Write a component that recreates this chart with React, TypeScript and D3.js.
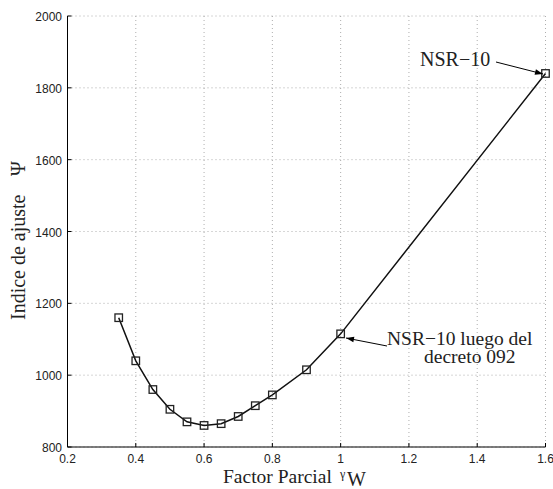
import React from "react";
import * as d3 from "d3";

const gammaW = [0.35, 0.4, 0.45, 0.5, 0.55, 0.6, 0.65, 0.7, 0.75, 0.8, 0.9, 1.0, 1.6];
const psi = [1160, 1040, 960, 905, 870, 860, 865, 885, 915, 945, 1015, 1115, 1840];
const xTicks = [0.2, 0.4, 0.6, 0.8, 1, 1.2, 1.4, 1.6];
const yTicks = [800, 1000, 1200, 1400, 1600, 1800, 2000];

const W = 553, H = 489;
const left = 67.5, right = 545.5, top = 16, bottom = 447;

export default function App() {
  const x = d3.scaleLinear().domain([0.2, 1.6]).range([left, right]);
  const y = d3.scaleLinear().domain([800, 2000]).range([bottom, top]);
  const pts = gammaW.map((g, i) => [x(g), y(psi[i])] as [number, number]);
  const line = d3.line()(pts) || "";
  const tickFont = "'Liberation Sans', Arial, sans-serif";
  const serif = "'Liberation Serif', 'Times New Roman', serif";
  return (
    <svg width={W} height={H} style={{ position: "absolute", left: 0, top: 0, background: "#fff" }}>
      <defs>
        <marker id="ah" viewBox="0 0 10 10" refX="10" refY="5" markerWidth="10" markerHeight="8" orient="auto" markerUnits="userSpaceOnUse">
          <path d="M0,1.5 L10,5 L0,8.5 z" fill="#000" />
        </marker>
      </defs>
      {xTicks.map((t) => (
        <line key={"gx" + t} x1={x(t)} x2={x(t)} y1={top} y2={bottom} stroke="#999" strokeWidth={0.8} strokeDasharray="1,3" />
      ))}
      {yTicks.map((t) => (
        <line key={"gy" + t} x1={left} x2={right} y1={y(t)} y2={y(t)} stroke="#999" strokeWidth={0.8} strokeDasharray="1,3" />
      ))}
      <line x1={left} x2={left} y1={top} y2={bottom} stroke="#000" strokeWidth={1} />
      <line x1={left} x2={right} y1={bottom} y2={bottom} stroke="#000" strokeWidth={1} />
      {xTicks.map((t) => (
        <g key={"tx" + t}>
          <line x1={x(t)} x2={x(t)} y1={bottom} y2={bottom - 4} stroke="#000" />
          <text x={x(t)} y={bottom + 16} textAnchor="middle" fontSize={12} fontFamily={tickFont} fill="#222">{t.toString()}</text>
        </g>
      ))}
      {yTicks.map((t) => (
        <g key={"ty" + t}>
          <line x1={left} x2={left + 4} y1={y(t)} y2={y(t)} stroke="#000" />
          <text x={left - 5.5} y={y(t) + 5} textAnchor="end" fontSize={12} fontFamily={tickFont} fill="#222">{t}</text>
        </g>
      ))}
      <path d={line} fill="none" stroke="#111" strokeWidth={1.5} />
      {pts.map(([px, py], i) => (
        <rect key={i} x={px - 3.75} y={py - 3.75} width={7.5} height={7.5} fill="none" stroke="#222" strokeWidth={1.3} />
      ))}
      <text x={223} y={483} fontSize={19.5} fontFamily={serif} fill="#222">Factor Parcial</text>
      <text x={340} y={478} fontSize={12} fontFamily={serif} fill="#222">γ</text>
      <text x={347} y={486} fontSize={20} fontFamily={serif} fill="#222">W</text>
      <g transform="translate(25,0) rotate(-90)">
        <text x={-320} y={0} fontSize={20} fontFamily={serif} fill="#222">Indice de ajuste</text>
        <text x={-176} y={0} fontSize={20} fontFamily={serif} fill="#222">Ψ</text>
      </g>
      <text x={420} y={66} fontSize={20} fontFamily={serif} fill="#222">NSR−10</text>
      <line x1={496} y1={62} x2={543} y2={74} stroke="#000" strokeWidth={1} markerEnd="url(#ah)" />
      <text x={387} y={345} fontSize={19.5} fontFamily={serif} fill="#222">NSR−10 luego del</text>
      <text x={424} y={363} fontSize={19.5} fontFamily={serif} fill="#222">decreto 092</text>
      <line x1={387} y1={346} x2={346} y2={338} stroke="#000" strokeWidth={1} markerEnd="url(#ah)" />
    </svg>
  );
}
